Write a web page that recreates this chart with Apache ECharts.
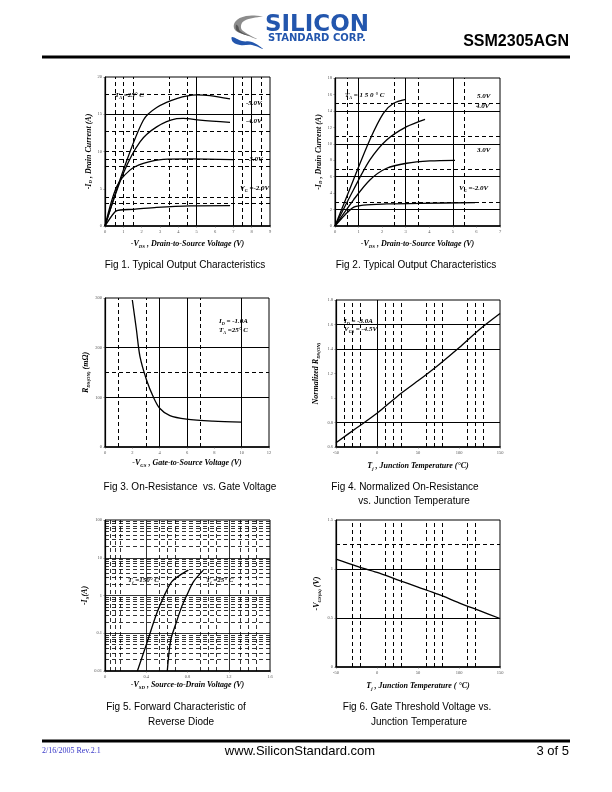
<!DOCTYPE html>
<html><head><meta charset="utf-8">
<script src="https://cdn.jsdelivr.net/npm/echarts@6/dist/echarts.min.js"></script>
<style>html,body{margin:0;padding:0;background:#fff}#c{width:612px;height:792px}</style>
</head><body><div id="c"></div>
<script>
// ---------------- DATA ----------------
// Fig 1: -V_DS (V) vs -I_D (A), T_A = 25 C
const fig1_vg5 = [[0,0],[1.0,7.5],[2.09,14.2],[2.82,15.9],[3.91,17.1],[5.0,17.6],[5.73,17.5],[6.82,17.05]];
const fig1_vg4 = [[0,0],[1.0,7.07],[1.91,11.3],[2.82,13.3],[3.91,14.4],[4.27,14.45],[5.18,14.2],[6.82,13.9]];
const fig1_vg3 = [[0,0],[0.64,5.3],[1.36,7.5],[2.09,8.4],[3.18,8.95],[4.64,9.0],[7.0,8.9]];
const fig1_vg2 = [[0,0],[0.55,1.92],[0.82,2.15],[1.55,2.24],[2.82,2.5],[4.64,2.7],[6.82,2.73]];
const fig1_solidX = [5, 7, 8];
const fig1_dashX = [0.55, 1.0, 1.53, 3.5, 4.5, 7.5, 8.5];
const fig1_solidY = [15];
const fig1_dashY = [3.0, 3.9, 8.0, 8.95, 10.0, 12.7, 17.7];

// Fig 2: T_A = 150 C
const fig2_vg5 = [[0,0],[0.78,5.6],[1.48,10.5],[2.05,13.7],[2.47,14.9],[3.01,15.4]];
const fig2_vg4 = [[0,0],[0.78,4.38],[1.48,8.03],[2.19,10.46],[3.04,12.08],[3.82,12.98]];
const fig2_vg3 = [[0,0],[0.78,3.16],[1.48,5.6],[2.19,7.02],[3.04,7.63],[4.03,7.91],[5.09,7.99]];
const fig2_vg2 = [[0,0],[0.42,1.34],[0.78,2.27],[1.2,2.55],[2.19,2.68],[3.61,2.76],[5.94,2.84]];
const fig2_solidX = [1, 3, 5];
const fig2_dashX = [0.5, 2.5, 3.53, 5.5];
const fig2_solidY = [2, 6, 10, 14];
const fig2_dashY = [2.9, 6.9, 10.9, 14.9];

// Fig 3: -V_GS (V) vs R_DS(ON) (mOhm)
const fig3_rds = [[2.0,296],[2.3,236],[2.56,182],[3.04,135],[3.53,101],[4.0,78],[4.75,63],[5.96,56],[7.9,52],[10.0,50]];
const fig3_solidX = [4, 6, 10];
const fig3_dashX = [1, 3, 7];
const fig3_solidY = [100, 200];
const fig3_dashY = [150];

// Fig 4: T_j (C) vs normalized R_DS(ON)
const fig4_rn = [[-50,0.635],[-25,0.755],[0,0.875],[25,1.015],[50,1.14],[75,1.27],[100,1.41],[125,1.56],[150,1.69]];
const fig4_solidX = [0];
const fig4_dashX = [-40,-30,-20,10,20,30,60,70,80,110,120,130];
const fig4_solidY = [0.8, 1.4, 1.6];
const fig4_dashY = [];

// Fig 5: -V_SD (V) vs -I_S (A), log scale
const fig5_t150 = [[0.314,0.01],[0.404,0.0532],[0.501,0.333],[0.575,1.0],[0.646,2.31],[0.727,3.47],[0.808,4.71]];
const fig5_t25 = [[0.604,0.01],[0.637,0.0652],[0.688,0.181],[0.743,0.5],[0.792,1.0],[0.857,2.31],[0.954,4.71]];
const fig5_solidX = [0.4, 1.2];
const fig5_dashX = [0.05,0.1,0.15,0.53,0.6,0.68,0.92,1.0,1.08,1.31,1.39,1.47];
const fig5_solidY = [0.1, 1, 10];
const fig5_dashY = [0.02,0.03,0.04,0.05,0.06,0.07,0.08,0.09,
                    0.2,0.3,0.4,0.5,0.6,0.7,0.8,0.9,
                    2,3,4,5,6,7,8,9,
                    20,30,40,50,60,70,80,90];

// Fig 6: T_j (C) vs -V_GS(th) (V)
const fig6_vth = [[-50,1.10],[-25,1.03],[0,0.965],[25,0.89],[50,0.815],[75,0.74],[100,0.655],[125,0.575],[150,0.495]];
const fig6_solidX = [];
const fig6_dashX = [-30,-20,10,20,30,60,70,80,110,120];
const fig6_solidY = [0.5, 1.0];
const fig6_dashY = [1.25];

// ---------------- CHART ----------------
const chart = echarts.init(document.getElementById('c'), null, {renderer:'canvas', width:612, height:792});
const SERIF = '"Liberation Serif","Times New Roman",serif';
const SANS = '"Liberation Sans",Arial,Helvetica,sans-serif';

function richSet(sz){
  return {
    i:{fontFamily:SERIF,fontStyle:'italic',fontWeight:'bold',fontSize:sz,lineHeight:sz+2,color:'#000'},
    s:{fontFamily:SERIF,fontStyle:'italic',fontWeight:'bold',fontSize:sz*0.6,lineHeight:sz*0.5,verticalAlign:'bottom',color:'#000'}
  };
}
const R8 = richSet(8);
const R7 = richSet(7);

const grids = [
  {left:105, top:77, width:165, height:149},
  {left:335, top:78, width:165, height:148},
  {left:105, top:298, width:164, height:149},
  {left:336, top:300, width:164, height:147},
  {left:105, top:520, width:165, height:151},
  {left:336, top:520, width:164, height:147}
].map(g => Object.assign({show:true, borderColor:'#000', borderWidth:1, backgroundColor:'rgba(0,0,0,0)'}, g));

const lbl = {fontSize:4.5, color:'#555', margin:3, fontFamily:SERIF};
function xAx(i, min, max, interval, name, gap, type){
  return {gridIndex:i, type:type||'value', min, max, interval,
    axisLine:{show:true, onZero:false, lineStyle:{color:'#000', width:1.6}},
    axisTick:{show:true, length:1.5, inside:false, lineStyle:{color:'#444', width:0.6}},
    axisLabel:lbl, splitLine:{show:false},
    name, nameLocation:'middle', nameGap:gap, nameTextStyle:{rich:R8}};
}
function yAx(i, min, max, interval, name, gap, type){
  const a = {gridIndex:i, type:type||'value', min, max,
    axisLine:{show:true, onZero:false, lineStyle:{color:'#000', width:1.2}},
    axisTick:{show:true, length:1.5, lineStyle:{color:'#444', width:0.6}},
    axisLabel:lbl, splitLine:{show:false}, minorSplitLine:{show:false},
    name, nameLocation:'middle', nameRotate:90, nameGap:gap, nameTextStyle:{rich:R8}};
  if (interval) a.interval = interval;
  if (type === 'log') a.logBase = 10;
  return a;
}

const xAxes = [
  xAx(0, 0, 9, 1, '{i|-V}{s|DS}{i| , Drain-to-Source Voltage (V)}', 13),
  xAx(1, 0, 7, 1, '{i|-V}{s|DS}{i| , Drain-to-Source Voltage (V)}', 13),
  xAx(2, 0, 12, 2, '{i|-V}{s|GS}{i| , Gate-to-Source Voltage (V)}', 11),
  xAx(3, -50, 150, 50, '{i|T}{s|j}{i| , Junction Temperature (°C)}', 14),
  xAx(4, 0, 1.6, 0.4, '{i|-V}{s|SD}{i| , Source-to-Drain Voltage (V)}', 9),
  xAx(5, -50, 150, 50, '{i|T}{s|j}{i| , Junction Temperature ( °C)}', 14)
];
const yAxes = [
  yAx(0, 0, 20, 5, '{i|-I}{s|D}{i| , Drain Current (A)}', 8),
  yAx(1, 0, 18, 2, '{i|-I}{s|D}{i| , Drain Current (A)}', 5),
  yAx(2, 0, 300, 100, '{i|R}{s|DS(ON)}{i| (mΩ)}', 13),
  yAx(3, 0.6, 1.8, 0.2, '{i|Normalized R}{s|DS(ON)}', 15),
  yAx(4, 0.01, 100, null, '{i|-I}{s|S}{i|(A)}', 11, 'log'),
  yAx(5, 0, 1.5, 0.5, '{i|-V}{s|GS(th)}{i| (V)}', 14)
];
yAxes[4].axisLabel = Object.assign({}, lbl, {formatter: v => String(v)});

function curve(idx, data){
  return {type:'line', xAxisIndex:idx, yAxisIndex:idx, data, showSymbol:false, symbol:'none',
    smooth:0.3, lineStyle:{color:'#000', width:1.3}, silent:true, animation:false, z:3};
}
function gridLines(idx, sx, dx, sy, dy, w){
  const S = {color:'#000', width:w||1, type:'solid'};
  const D = {color:'#000', width:w||1, type:[4,3]};
  const d = [];
  sx.forEach(v => d.push({xAxis:v, lineStyle:S}));
  dx.forEach(v => d.push({xAxis:v, lineStyle:D}));
  sy.forEach(v => d.push({yAxis:v, lineStyle:S}));
  dy.forEach(v => d.push({yAxis:v, lineStyle:D}));
  return {type:'line', xAxisIndex:idx, yAxisIndex:idx, data:[], silent:true, animation:false, z:1,
    markLine:{silent:true, symbol:['none','none'], label:{show:false}, animation:false, data:d}};
}

const series = [
  gridLines(0, fig1_solidX, fig1_dashX, fig1_solidY, fig1_dashY),
  curve(0, fig1_vg5), curve(0, fig1_vg4), curve(0, fig1_vg3), curve(0, fig1_vg2),
  gridLines(1, fig2_solidX, fig2_dashX, fig2_solidY, fig2_dashY),
  curve(1, fig2_vg5), curve(1, fig2_vg4), curve(1, fig2_vg3), curve(1, fig2_vg2),
  gridLines(2, fig3_solidX, fig3_dashX, fig3_solidY, fig3_dashY),
  curve(2, fig3_rds),
  gridLines(3, fig4_solidX, fig4_dashX, fig4_solidY, fig4_dashY),
  curve(3, fig4_rn),
  gridLines(4, fig5_solidX, fig5_dashX, fig5_solidY, fig5_dashY, 0.8),
  curve(4, fig5_t150), curve(4, fig5_t25),
  gridLines(5, fig6_solidX, fig6_dashX, fig6_solidY, fig6_dashY),
  curve(5, fig6_vth)
];

function txt(x, y, text, font, align, fill){
  return {type:'text', x, y, z:10, silent:true,
    style:{text, font, fill:fill||'#000', align:align||'left', verticalAlign:'middle',
           textAlign:align||'left', textVerticalAlign:'middle'}};
}
function rtxt(x, y, text, rich, align){
  return {type:'text', x, y, z:10, silent:true,
    style:{text, rich, fill:'#000', align:align||'left', verticalAlign:'middle',
           textAlign:align||'left', textVerticalAlign:'middle'}};
}
const CAP = '10px ' + SANS;
const graphic = [
  // header logo
  {type:'polygon', silent:true, z:5, shape:{smooth:0.4, points:[[263,16],[246,16],[235,22],[235,30],[246,35],[257,39],[246,33],[241,28],[244,21],[263,16]]}, style:{fill:'#8c8c8c'}},
  {type:'polygon', silent:true, z:5, shape:{smooth:0.4, points:[[236,25],[237,31],[250,36],[240,31],[238,26]]}, style:{fill:'#555'}},
  {type:'polygon', silent:true, z:5, shape:{smooth:0.4, points:[[232,37],[242,41],[252,42],[263,49],[252,45],[240,45],[233,42]]}, style:{fill:'#2356ad'}},
  {type:'text', x:265, y:25, z:5, silent:true, style:{text:'SILICON', font:'bold 23px "DejaVu Sans", sans-serif', fill:'#2356ad', verticalAlign:'middle', textVerticalAlign:'middle', shadowColor:'rgba(0,0,0,0.35)', shadowOffsetX:1, shadowOffsetY:1, shadowBlur:0}},
  txt(268, 38, 'STANDARD CORP.', 'bold 10px "DejaVu Sans", sans-serif', 'left', '#2356ad'),
  txt(569, 42, 'SSM2305AGN', 'bold 16px ' + SANS, 'right'),
  {type:'rect', silent:true, shape:{x:42, y:55.5, width:528, height:3}, style:{fill:'#000'}},
  // footer
  {type:'rect', silent:true, shape:{x:42, y:739.5, width:528, height:3}, style:{fill:'#000'}},
  txt(42, 751, '2/16/2005 Rev.2.1', '8px ' + SERIF, 'left', '#3838c8'),
  txt(300, 751, 'www.SiliconStandard.com', '13px ' + SANS, 'center'),
  txt(569, 751, '3 of 5', '13px ' + SANS, 'right'),
  // captions
  txt(185, 265, 'Fig 1. Typical Output Characteristics', CAP, 'center'),
  txt(416, 265, 'Fig 2. Typical Output Characteristics', CAP, 'center'),
  txt(190, 487, 'Fig 3. On-Resistance  vs. Gate Voltage', CAP, 'center'),
  txt(405, 487, 'Fig 4. Normalized On-Resistance', CAP, 'center'),
  txt(414, 501, 'vs. Junction Temperature', CAP, 'center'),
  txt(176, 707, 'Fig 5. Forward Characteristic of', CAP, 'center'),
  txt(181, 722, 'Reverse Diode', CAP, 'center'),
  txt(417, 707, 'Fig 6. Gate Threshold Voltage vs.', CAP, 'center'),
  txt(419, 722, 'Junction Temperature', CAP, 'center'),
  // annotations fig 1
  rtxt(115, 95, '{i|T}{s|A}{i| =25° C}', R7),
  rtxt(246, 103, '{i|-5.0V}', R7),
  rtxt(246, 121, '{i|-4.0V}', R7),
  rtxt(247, 159, '{i|-3.0V}', R7),
  rtxt(240, 188, '{i|V}{s|G}{i| =-2.0V}', R7),
  // fig 2
  rtxt(345, 95, '{i|T}{s|A}{i| = 1 5 0 ° C}', R7),
  rtxt(477, 96, '{i|5.0V}', R7),
  rtxt(476, 106, '{i|4.0V}', R7),
  rtxt(477, 150, '{i|3.0V}', R7),
  rtxt(459, 188, '{i|V}{s|G}{i| =-2.0V}', R7),
  // fig 3
  rtxt(219, 321, '{i|I}{s|D}{i| = -1.0A}', R7),
  rtxt(219, 330, '{i|T}{s|A}{i| =25° C}', R7),
  // fig 4
  rtxt(344, 321, '{i|I}{s|D}{i| = -3.0A}', R7),
  rtxt(344, 329.5, '{i|V}{s|GS}{i| = -4.5V}', R7),
  // fig 5
  rtxt(128, 580, '{i|T}{s|j}{i| =150° C}', R7),
  rtxt(206, 580, '{i|T}{s|j}{i| =25° C}', R7)
];

chart.setOption({
  animation:false,
  backgroundColor:'#fff',
  grid: grids,
  xAxis: xAxes,
  yAxis: yAxes,
  series,
  graphic
});
</script>
</body></html>
